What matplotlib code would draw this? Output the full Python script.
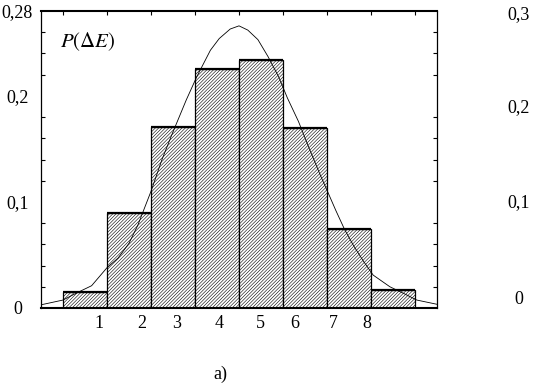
import matplotlib
matplotlib.use("Agg")
import matplotlib.pyplot as plt
import numpy as np

plt.rcParams['font.family'] = ['Liberation Serif', 'DejaVu Serif']
plt.rcParams['mathtext.fontset'] = 'stix'
plt.rcParams['hatch.linewidth'] = 0.4

# histogram bins (bar centres in axis units) and heights
bin_centers = [1, 2, 3, 4, 5, 6, 7, 8]
bar_values = [0.0154, 0.0898, 0.171, 0.2253, 0.2338, 0.170, 0.0745, 0.017]

# fitted curve, points
curve_x = [0.0, 0.5, 0.85, 1.15, 1.5, 1.75, 2.0, 2.2, 2.5, 2.75, 2.97, 3.3, 3.54,
           3.85, 4.05, 4.3, 4.5, 4.7, 4.93, 5.16, 5.4, 5.6, 5.85, 6.1, 6.35,
           6.5, 6.7, 6.9, 7.1, 7.33, 7.55, 7.93, 8.23, 8.54, 9.0]
curve_y = [0.003, 0.0075, 0.015, 0.021, 0.038, 0.047, 0.061, 0.078, 0.110, 0.140,
           0.163, 0.196, 0.218, 0.243, 0.254, 0.263, 0.266, 0.262, 0.253, 0.237,
           0.218, 0.198, 0.176, 0.150, 0.125, 0.111, 0.092, 0.074, 0.059, 0.044,
           0.031, 0.020, 0.014, 0.0075, 0.0035]

# x tick labels and their positions
xtick_pos = [1.325, 2.289, 3.083, 4.052, 4.977, 5.773, 6.643, 7.402]
xtick_labels = ['1', '2', '3', '4', '5', '6', '7', '8']
ytick_pos = [0, 0.1, 0.2, 0.28]
ytick_labels = ['0', '0,1', '0,2', '0,28']

# labels of the neighbouring panel (cut off)
right_labels = ['0,3', '0,2', '0,1', '0']

W, H = 535, 383
fig = plt.figure(figsize=(W / 100, H / 100), dpi=100)
ax = fig.add_axes([41 / W, 1 - 308 / H, 396 / W, 297 / H])

ax.bar(bin_centers, bar_values, width=1.0, color='white', edgecolor='black',
       linewidth=0.9, hatch='//////////', zorder=2)
left = np.array(bin_centers) - 0.5
ax.hlines(bar_values, left, left + 1, colors='black', linewidth=1.6, zorder=3)
ax.plot(curve_x, curve_y, color='black', linewidth=0.6, zorder=4)

ax.set_xlim(0, 9)
ax.set_ylim(0, 0.28)

ax.set_xticks(xtick_pos)
ax.set_xticklabels(xtick_labels, fontsize=13)
ax.set_xticks(np.arange(0.5, 9, 1.0), minor=True)
ax.tick_params(axis='x', which='major', length=0, pad=5)
ax.tick_params(axis='x', which='minor', bottom=False, top=True, direction='in', length=3, width=0.8)

ax.set_yticks(ytick_pos)
ax.set_yticklabels(ytick_labels, fontsize=13)
ax.set_yticks(np.arange(0, 0.281, 0.02), minor=True)
ax.tick_params(axis='y', which='major', length=0, pad=17)
ax.tick_params(axis='y', which='minor', left=True, right=True, direction='in', length=3, width=0.8)
for lab in ax.get_yticklabels():
    lab.set_horizontalalignment('center')

for s in ['top', 'bottom']:
    ax.spines[s].set_linewidth(1.5)
for s in ['left', 'right']:
    ax.spines[s].set_linewidth(0.9)

ax.text(0.048, 0.896, r'$P(\Delta E)$', transform=ax.transAxes, fontsize=15,
        ha='left', va='center')

for lab, py in zip(right_labels, [15, 108, 203, 300]):
    fig.text(519 / W, 1 - py / H, lab, fontsize=13, ha='center', va='center')

fig.text(220.5 / W, 1 - 374 / H, 'a)', fontsize=13, ha='center', va='center')

fig.savefig('out.png', dpi=100)
